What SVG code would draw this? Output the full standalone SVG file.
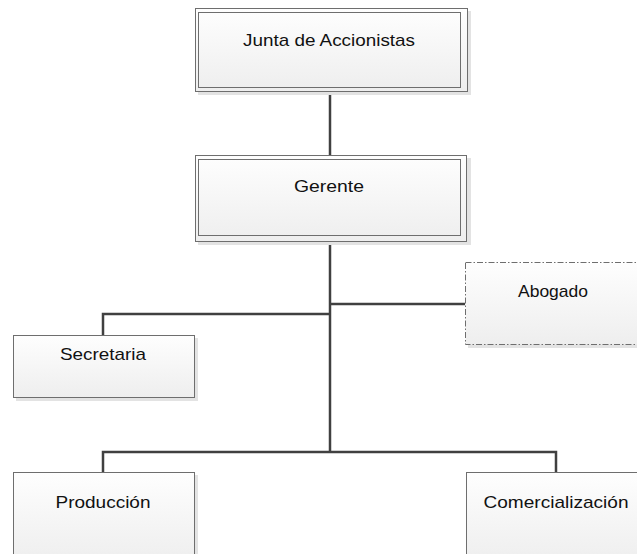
<svg xmlns="http://www.w3.org/2000/svg" width="637" height="554" viewBox="0 0 637 554">
<defs>
<linearGradient id="g" x1="0" y1="0" x2="0" y2="1">
<stop offset="0" stop-color="#fefefe"/>
<stop offset="1" stop-color="#eeeeee"/>
</linearGradient>
</defs>
<style>
.sh{fill:#e3e3e3;stroke:none}
.box{fill:url(#g);stroke:#6e6e6e;stroke-width:1}
.in{fill:none;stroke:#6e6e6e;stroke-width:1}
.dash{fill:url(#g);stroke:#6e6e6e;stroke-width:1;stroke-dasharray:6 2 1.5 2}
.c{fill:none;stroke:#404040;stroke-width:2.5}
text{font-family:"Liberation Sans",Arial,sans-serif;font-size:17px;fill:#111;text-anchor:middle}
</style>
<rect width="637" height="554" fill="#fff"/>
<g id="connectors">
<path class="c" d="M330,92 V155"/>
<path class="c" d="M330,242 V452"/>
<path class="c" d="M330,304 H465"/>
<path class="c" d="M330,314 H103 V335"/>
<path class="c" d="M103,472 V452 H556 V472"/>
</g>
<g id="junta">
<rect class="sh" x="198" y="11" width="273" height="84"/>
<rect class="box" x="195.5" y="8.5" width="272" height="83"/>
<rect class="in" x="198.5" y="12.5" width="262" height="75"/>
<text x="329" y="46" textLength="172" lengthAdjust="spacingAndGlyphs">Junta de Accionistas</text>
</g>
<g id="gerente">
<rect class="sh" x="198" y="158" width="273" height="87"/>
<rect class="box" x="195.5" y="155.5" width="271" height="86"/>
<rect class="in" x="198.5" y="159.5" width="262" height="76"/>
<text x="329" y="192" textLength="70" lengthAdjust="spacingAndGlyphs">Gerente</text>
</g>
<g id="abogado">
<rect class="sh" x="468" y="265" width="172" height="83"/>
<rect class="dash" x="465.5" y="262.5" width="180" height="82"/>
<text x="553" y="297" textLength="70" lengthAdjust="spacingAndGlyphs">Abogado</text>
</g>
<g id="secretaria">
<rect class="sh" x="16" y="338" width="182" height="63"/>
<rect class="box" x="13.5" y="335.5" width="181" height="62"/>
<text x="103" y="360" textLength="86" lengthAdjust="spacingAndGlyphs">Secretaria</text>
</g>
<g id="produccion">
<rect class="sh" x="16" y="475" width="182" height="90"/>
<rect class="box" x="13.5" y="472.5" width="181" height="90"/>
<text x="103" y="508" textLength="95" lengthAdjust="spacingAndGlyphs">Producción</text>
</g>
<g id="comercializacion">
<rect class="sh" x="469" y="475" width="180" height="90"/>
<rect class="box" x="466.5" y="472.5" width="180" height="90"/>
<text x="556" y="508" textLength="145" lengthAdjust="spacingAndGlyphs">Comercialización</text>
</g>
</svg>
